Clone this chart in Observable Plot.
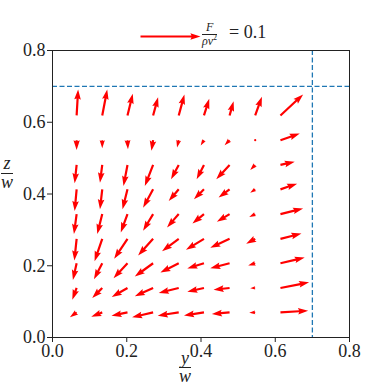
<!DOCTYPE html>
<html>
<head>
<meta charset="utf-8">
<script src="https://cdn.jsdelivr.net/npm/d3@7"></script>
<script src="https://cdn.jsdelivr.net/npm/@observablehq/plot@0.6"></script>
<style>
  html, body { margin: 0; padding: 0; background: #fff; }
  #wrap { position: relative; width: 388px; height: 388px; overflow: hidden; font-family: 'Liberation Serif', 'DejaVu Serif', serif; }
  .frac { position: absolute; display: inline-flex; flex-direction: column; align-items: center; line-height: 0.85; font-style: italic; }
  .frac .bar { border-top: 1px solid #222; align-self: stretch; margin: 2px 0 1px 0; }
  .lab { position: absolute; color: #222; font-family: 'Liberation Serif', 'DejaVu Serif', serif; }
</style>
</head>
<body>
<div id="wrap">
  <div id="chart"></div>
  <!-- legend text -->
  <div class="frac lab" style="left:202px; top:22px; font-size:12px;"><span>F</span><span class="bar"></span><span>ρν<sup style="font-size:8px;font-style:normal;line-height:0;">2</sup></span></div>
  <div class="lab" style="left:229px; top:23px; font-size:18px; line-height:1.1;">= 0.1</div>
  <!-- x label -->
  <div class="frac lab" style="left:179px; top:351px; font-size:18px; line-height:0.8;"><span>y</span><span class="bar" style="border-top-width:1.3px"></span><span>w</span></div>
  <!-- y label -->
  <div class="frac lab" style="left:1px; top:156px; font-size:18px;"><span>z</span><span class="bar" style="border-top-width:1.3px"></span><span>w</span></div>
</div>
<script>
// grid positions (y/w and z/w)
const xs = [0.065, 0.134, 0.202, 0.271, 0.340, 0.408, 0.477, 0.546, 0.614];
const ys = [0.619, 0.550, 0.481, 0.413, 0.344, 0.275, 0.207, 0.138, 0.070]; // top row first

// horizontal force component F_y/(rho nu^2), rows top -> bottom
const U = [
  [0.0025, 0.0083, 0.0088, 0.0083, 0.0095, 0.0088, 0.0067, 0.0112, 0.0378],
  [0.0000, 0.0000, 0.0008, -0.0028, -0.0028, -0.0055, -0.0083, 0.0005, 0.0322],
  [-0.0033, -0.0038, -0.0067, -0.0138, -0.0128, -0.0122, -0.0222, -0.0083, 0.0238],
  [-0.0033, -0.0038, -0.0083, -0.0167, -0.0167, -0.0167, -0.0183, -0.0083, 0.0278],
  [-0.0045, -0.0083, -0.0112, -0.0167, -0.0195, -0.0192, -0.0212, -0.0100, 0.0378],
  [-0.0038, -0.0128, -0.0222, -0.0250, -0.0278, -0.0300, -0.0322, -0.0150, 0.0350],
  [-0.0062, -0.0138, -0.0233, -0.0305, -0.0305, -0.0278, -0.0322, -0.0117, 0.0405],
  [-0.0072, -0.0167, -0.0262, -0.0305, -0.0333, -0.0278, -0.0267, -0.0083, 0.0478],
  [-0.0112, -0.0183, -0.0267, -0.0350, -0.0350, -0.0333, -0.0295, -0.0100, 0.0462]
];
// vertical force component F_z/(rho nu^2), rows top -> bottom
const V = [
  [0.0433, 0.0433, 0.0362, 0.0305, 0.0350, 0.0278, 0.0238, 0.0312, 0.0350],
  [-0.0162, -0.0133, -0.0150, -0.0178, -0.0122, -0.0088, -0.0083, 0.0000, 0.0112],
  [-0.0305, -0.0295, -0.0350, -0.0350, -0.0238, -0.0238, -0.0238, -0.0083, 0.0055],
  [-0.0362, -0.0333, -0.0333, -0.0305, -0.0195, -0.0167, -0.0138, -0.0055, 0.0095],
  [-0.0333, -0.0333, -0.0305, -0.0278, -0.0222, -0.0158, -0.0128, -0.0050, 0.0095],
  [-0.0362, -0.0372, -0.0333, -0.0278, -0.0205, -0.0183, -0.0150, -0.0083, 0.0088],
  [-0.0278, -0.0267, -0.0250, -0.0222, -0.0155, -0.0088, -0.0083, -0.0038, 0.0095],
  [-0.0195, -0.0167, -0.0150, -0.0138, -0.0083, -0.0062, -0.0028, -0.0005, 0.0095],
  [-0.0083, -0.0072, -0.0055, -0.0083, -0.0055, -0.0050, -0.0028, -0.0008, 0.0028]
];
const keyValue = [0.1];
const ticks = [0, 0.2, 0.4, 0.6, 0.8];
const boundary = [0.7];

const data = [];
ys.forEach((y, r) => xs.forEach((x, c) => {
  const u = U[r][c], v = V[r][c];
  data.push({x, y, len: Math.hypot(u, v), rot: Math.atan2(u, v) * 180 / Math.PI});
}));

// matplotlib-like filled quiver arrow
const quiver = {
  draw(ctx, l) {
    const w = 2.2, hl = 4.6 * w, hal = 4.1 * w, hw = 1.5 * w;
    if (l < 0.6 * w) {
      ctx.moveTo(w / 2, 0); ctx.arc(0, 0, w / 2, 0, 2 * Math.PI); return;
    }
    let pts;
    if (l >= hl) {
      pts = [[-w/2, 0], [-w/2, -(l - hal)], [-hw, -(l - hl)], [0, -l], [hw, -(l - hl)], [w/2, -(l - hal)], [w/2, 0]];
    } else {
      const s = l / hl;
      pts = [[-w/2, 0], [-w/2, -(hl - hal)], [-hw, 0], [0, -hl], [hw, 0], [w/2, -(hl - hal)], [w/2, 0]].map(([a, b]) => [a * s, b * s]);
    }
    ctx.moveTo(pts[0][0], pts[0][1]);
    for (let i = 1; i < pts.length; i++) ctx.lineTo(pts[i][0], pts[i][1]);
    ctx.closePath();
  }
};

const chart = Plot.plot({
  width: 388,
  height: 388,
  marginTop: 50,
  marginBottom: 51,
  marginLeft: 52,
  marginRight: 39,
  style: {fontFamily: "'Liberation Serif', 'DejaVu Serif', serif", fontSize: "18px", color: "#222", overflow: "visible"},
  x: {domain: [0, 0.8]},
  y: {domain: [0, 0.8]},
  length: {type: "linear", domain: [0, 0.1], range: [0, 60]},
  marks: [
    Plot.ruleY(boundary, {stroke: "#1f77b4", strokeWidth: 1.3, strokeDasharray: "5,2.5"}),
    Plot.ruleX(boundary, {stroke: "#1f77b4", strokeWidth: 1.3, strokeDasharray: "5,2.5"}),
    Plot.vector(data, {x: "x", y: "y", length: "len", rotate: "rot", anchor: "start", shape: quiver, fill: "#ff0000", stroke: "none"}),
    Plot.vector(keyValue, {frameAnchor: "top", dx: -60.5, dy: -14, length: d => d, rotate: 90, anchor: "start", shape: quiver, fill: "#ff0000", stroke: "none"}),
    Plot.frame({stroke: "#222", strokeWidth: 1}),
    Plot.axisX({ticks, tickFormat: d3.format(".1f"), tickSize: 5, tickPadding: 2, label: null, fontSize: 18, fontFamily: "Liberation Serif"}),
    Plot.axisY({ticks, tickFormat: d3.format(".1f"), tickSize: 5, tickPadding: 2, label: null, fontSize: 18, fontFamily: "Liberation Serif"})
  ]
});
document.getElementById("chart").appendChild(chart);
</script>
</body>
</html>
